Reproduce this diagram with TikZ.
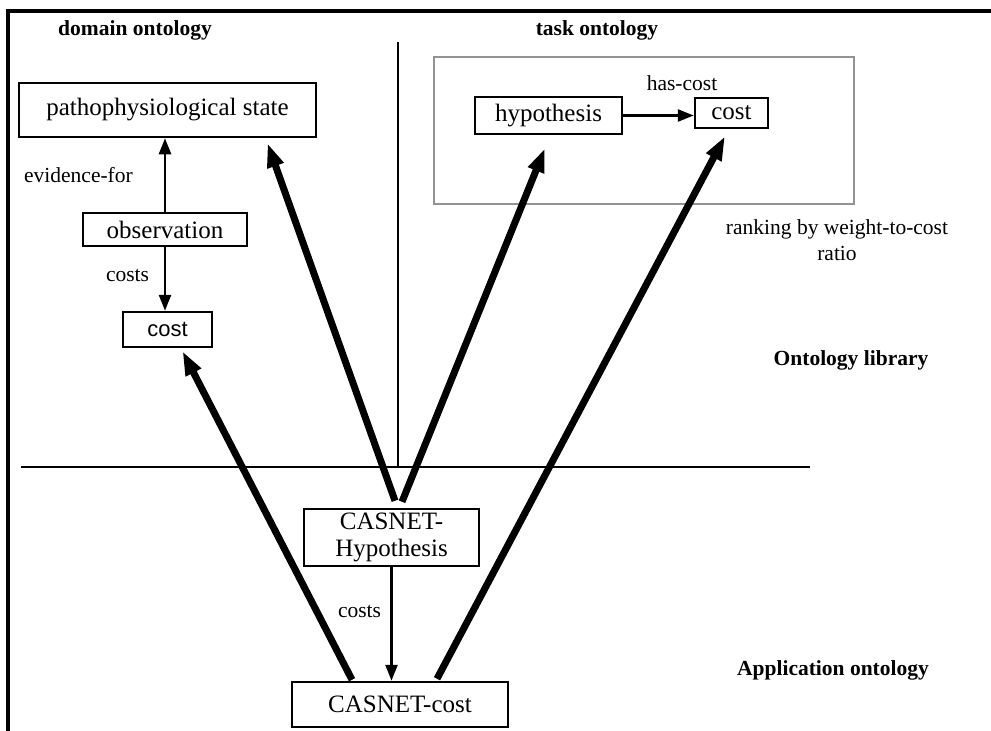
\documentclass[tikz,border=0pt]{standalone}
\usepackage{fontspec}
\setmainfont{Liberation Serif}
\newfontfamily\arialfont{Liberation Sans}
\usetikzlibrary{arrows.meta}
\tikzset{>={Triangle[length=16pt,width=12pt]}}
\tikzset{box/.style={draw, line width=2.5pt, inner sep=0pt, align=center, font=\fontsize{25}{27}\selectfont},
    lbl/.style={inner sep=0pt, align=center, font=\fontsize{21.5}{26}\selectfont},
    head/.style={inner sep=0pt, font=\bfseries\fontsize{21.5}{26}\selectfont},
    thin/.style={line width=2.5pt},
    link/.style={line width=7pt, -{Triangle[length=24pt,width=16pt]}}}

\begin{document}
\begin{tikzpicture}[x=1pt,y=-1pt]
    \useasboundingbox (0,0) rectangle (991,731);
    % frame and dividers
    \draw[line width=3.5pt] (8,735) -- (8,11) -- (995,11);
    \draw[thin] (398,42) -- (398,467);
    \draw[thin] (21,467) -- (810,467);
    \draw[thin, gray!85] (434,57) rectangle (854,204);
    % headings
    \node[head] (hdom) at (135,30) {domain ontology};
    \node[head] (htask) at (597,30) {task ontology};
    \node[head] (hlib) at (851,360) {Ontology library};
    \node[head] (happ) at (833,670) {Application ontology};
    % domain ontology
    \node[box, minimum width=297pt, minimum height=54pt] (patho) at (167.5,110) {pathophysiological state};
    \node[box, minimum width=164pt, minimum height=33pt] (obs) at (165,229.5) {observation};
    \node[box, minimum width=89pt, minimum height=35pt, font=\arialfont\fontsize{22}{26}\selectfont] (dcost) at (167.5,329.5) {cost};
    \draw[thin, ->] (obs.north) -- (obs.north |- patho.south);
    \draw[thin, ->] (obs.south) -- (obs.south |- dcost.north);
    \node[lbl, anchor=east] (lev) at (133,175) {evidence-for};
    \node[lbl] (lcosta) at (127.5,276) {costs};
    % task ontology
    \node[box, minimum width=147pt, minimum height=37pt] (hyp) at (548.5,115.5) {hypothesis};
    \node[box, minimum width=73pt, minimum height=30pt] (tcost) at (731.5,113) {cost};
    \draw[thin, ->] (hyp.east) -- (hyp.east -| tcost.west);
    \node[lbl] (lhas) at (682,83) {has-cost};
    \node[lbl] (lrank) at (837,240) {ranking by weight-to-cost\\ratio};
    % application ontology
    \node[box, minimum width=175pt, minimum height=57pt] (chyp) at (391.5,537.5) {CASNET-\\Hypothesis};
    \node[box, minimum width=216pt, minimum height=45pt] (ccost) at (400,704.5) {CASNET-cost};
    \draw[thin, ->] (chyp.south) -- (chyp.south |- ccost.north);
    \node[lbl] (lcostb) at (359.5,612) {costs};
    % links to the library
    \draw[link] ([xshift=-48pt,yshift=1pt]ccost.north) -- ([xshift=15pt,yshift=-3pt]dcost.south);
    \draw[link] ([xshift=3.5pt,yshift=7pt]chyp.north) -- ([xshift=100pt,yshift=-5pt]patho.south);
    \draw[link] ([xshift=10.5pt,yshift=6pt]chyp.north) -- ([xshift=-3.5pt,yshift=-13pt]hyp.south);
    \draw[link] ([xshift=37pt,yshift=2pt]ccost.north) -- ([xshift=-6.5pt,yshift=-7pt]tcost.south);
\end{tikzpicture}
\end{document}
